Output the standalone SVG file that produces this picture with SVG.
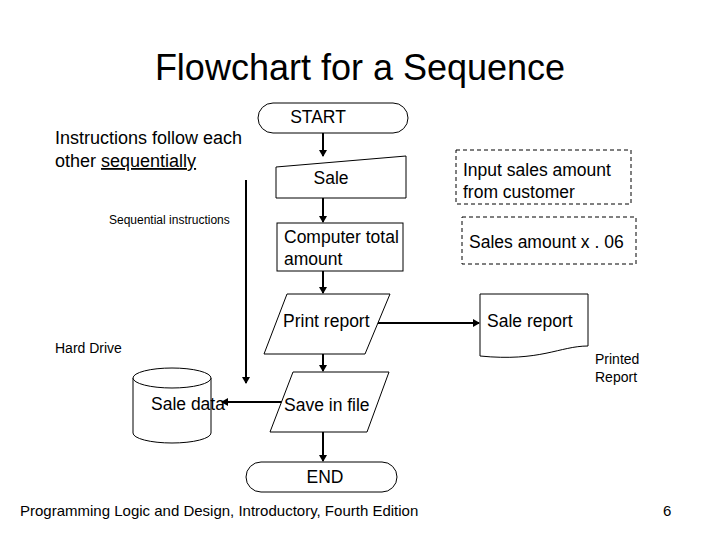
<svg xmlns="http://www.w3.org/2000/svg" width="720" height="540" viewBox="0 0 720 540">
<style>
text{font-family:"Liberation Sans",Arial,sans-serif;fill:#000}
.s{fill:#fff;stroke:#000;stroke-width:1}
.c{stroke:#000;stroke-width:2;fill:none}
.b{font-size:17.5px}
.d{fill:none;stroke:#000;stroke-width:1;stroke-dasharray:4 3}
</style>
<defs><marker id="a" markerWidth="8" markerHeight="8" refX="6" refY="4" orient="auto" markerUnits="userSpaceOnUse"><path d="M0,0 L7,4 L0,8 z" fill="#000"/></marker></defs>
<rect width="720" height="540" fill="#fff"/>
<text x="360" y="80" font-size="36" text-anchor="middle">Flowchart for a Sequence</text>
<text x="55" y="144" font-size="18">Instructions follow each</text>
<text x="55" y="167" font-size="18">other <tspan text-decoration="underline">sequentially</tspan></text>
<text x="109" y="224" font-size="12">Sequential instructions</text>
<text x="55" y="353" font-size="14">Hard Drive</text>
<text x="595" y="364" font-size="14">Printed</text>
<text x="595" y="382" font-size="14">Report</text>
<text x="20" y="516" font-size="15">Programming Logic and Design, Introductory, Fourth Edition</text>
<text x="663" y="516" font-size="15">6</text>
<g id="connectors">
<line class="c" x1="323" y1="133" x2="323" y2="156" marker-end="url(#a)"/>
<line class="c" x1="323" y1="198" x2="323" y2="222" marker-end="url(#a)"/>
<line class="c" x1="323" y1="271" x2="323" y2="293" marker-end="url(#a)"/>
<line class="c" x1="323" y1="354" x2="323" y2="371" marker-end="url(#a)"/>
<line class="c" x1="323" y1="432" x2="323" y2="461" marker-end="url(#a)"/>
<line class="c" x1="377" y1="323" x2="479" y2="323" marker-end="url(#a)"/>
<line class="c" x1="282" y1="402" x2="222" y2="402" marker-end="url(#a)"/>
<line class="c" x1="246" y1="180" x2="246" y2="383" marker-end="url(#a)"/>
</g>
<g id="start"><rect class="s" x="258" y="103" width="150" height="30" rx="15"/><text x="318" y="123" class="b" text-anchor="middle">START</text></g>
<g id="sale"><path class="s" d="M276,167 L406,156 L406,198 L276,198 Z"/><text x="331" y="184" class="b" text-anchor="middle">Sale</text></g>
<g id="compute"><rect class="s" x="277" y="223" width="126" height="48"/><text x="284" y="243" class="b">Computer total</text><text x="284" y="265" class="b">amount</text></g>
<g id="print"><path class="s" d="M287,294 L390,294 L365,354 L264,354 Z"/><text x="283" y="327" class="b">Print report</text></g>
<g id="save"><path class="s" d="M293,372 L389,372 L367,432 L270,432 Z"/><text x="284" y="411" class="b">Save in file</text></g>
<g id="end"><rect class="s" x="246" y="462" width="151" height="30" rx="15"/><text x="325" y="483" class="b" text-anchor="middle">END</text></g>
<g id="saledata"><path class="s" d="M133,378 L133,433 A39,10 0 0 0 211,433 L211,378"/><ellipse class="s" cx="172" cy="378" rx="39" ry="10"/><text x="151" y="410" class="b">Sale data</text></g>
<g id="salereport"><path class="s" d="M480,294 L588,294 L588,346 C560,346 540,362 480,356 Z"/><text x="487" y="327" class="b">Sale report</text></g>
<g id="note1"><rect class="d" x="456" y="150" width="175" height="54"/><text x="463" y="176" class="b">Input sales amount</text><text x="463" y="198" class="b">from customer</text></g>
<g id="note2"><rect class="d" x="462" y="217" width="174" height="47"/><text x="469" y="248" class="b">Sales amount x . 06</text></g>
</svg>
